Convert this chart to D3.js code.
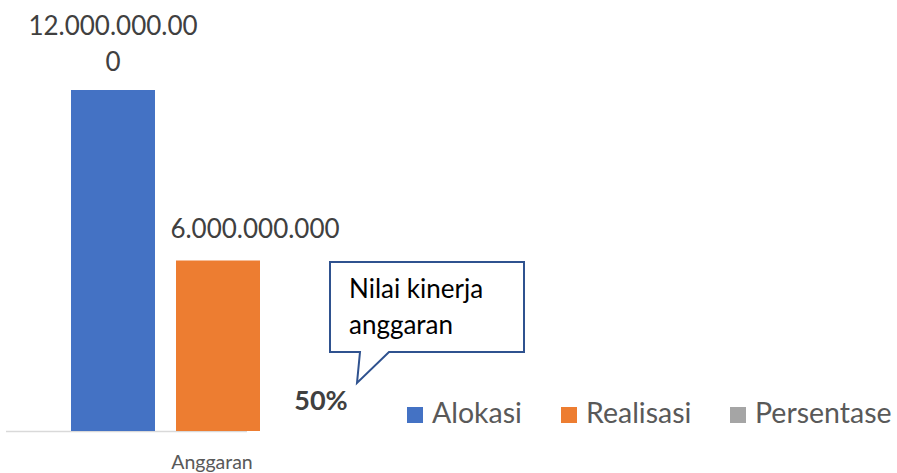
<!DOCTYPE html>
<html>
<head>
<meta charset="UTF-8">
<style>
  body { margin: 0; background: #fff; }
  svg { display: block; font-family: Lato, "Open Sans", sans-serif; }
</style>
</head>
<body>
<div id="chart"></div>
<script src="https://d3js.org/d3.v7.min.js"></script>
<script>
const category = "Anggaran";
const seriesNames = ["Alokasi", "Realisasi", "Persentase"];
const seriesValues = [12000000000, 6000000000, 0.5];
const seriesLabels = [["12.000.000.00", "0"], ["6.000.000.000"], ["50%"]];
const seriesColors = ["#4472C4", "#ED7D31", "#A5A5A5"];
const calloutText = ["Nilai kinerja", "anggaran"];

const width = 897, height = 473;
const svg = d3.select("#chart").append("svg")
  .attr("width", width).attr("height", height);

const x = d3.scaleBand().domain(seriesNames).range([60.5, 375.5])
  .paddingInner(0.2).paddingOuter(0.1);
const y = d3.scaleLinear().domain([0, 12000000000]).range([431, 90]);

// axis line
svg.append("line")
  .attr("x1", 6).attr("x2", 247).attr("y1", 431.5).attr("y2", 431.5)
  .attr("stroke", "#D9D9D9").attr("stroke-width", 1.5);

// bars
svg.selectAll(".bar").data(seriesNames).enter().append("rect")
  .attr("x", d => x(d))
  .attr("width", x.bandwidth())
  .attr("y", (d, i) => y(seriesValues[i]))
  .attr("height", (d, i) => y(0) - y(seriesValues[i]))
  .attr("fill", (d, i) => seriesColors[i]);

// data labels
const labelPos = [
  { cx: x("Alokasi") + x.bandwidth() / 2, base: 35 },
  { cx: 255, base: 238 },
  { cx: x("Persentase") + x.bandwidth() / 2 - 2, base: 410 }
];
seriesLabels.forEach((lines, i) => {
  const t = svg.append("text")
    .attr("text-anchor", "middle")
    .attr("font-size", i === 2 ? 27 : 26)
    .attr("font-weight", i === 2 ? "bold" : "normal")
    .attr("fill", "#404040");
  lines.forEach((s, j) => {
    t.append("tspan").attr("x", labelPos[i].cx).attr("y", labelPos[i].base + j * 36).text(s);
  });
});

// category label
svg.append("text")
  .attr("x", 212).attr("y", 469)
  .attr("text-anchor", "middle")
  .attr("font-size", 19.5).attr("fill", "#595959")
  .text(category);

// callout
const box = { x0: 330, x1: 524, y0: 262, y1: 352 };
const tail = { a: 360, b: 389, tipX: 357, tipY: 383 };
svg.append("path")
  .attr("d", `M${box.x0},${box.y0}H${box.x1}V${box.y1}H${tail.b}L${tail.tipX},${tail.tipY}L${tail.a},${box.y1}H${box.x0}Z`)
  .attr("fill", "#fff").attr("stroke", "#2F528F").attr("stroke-width", 2);
calloutText.forEach((s, j) => {
  svg.append("text")
    .attr("x", 349).attr("y", 298 + j * 36)
    .attr("font-size", 26).attr("fill", "#000")
    .text(s);
});

// legend
const legendX = [407, 561, 730];
seriesNames.forEach((name, i) => {
  svg.append("rect")
    .attr("x", legendX[i]).attr("y", 407)
    .attr("width", 16).attr("height", 16)
    .attr("fill", seriesColors[i]);
  svg.append("text")
    .attr("x", legendX[i] + 25).attr("y", 423)
    .attr("font-size", 28.5).attr("fill", "#595959")
    .text(name);
});
</script>
</body>
</html>
